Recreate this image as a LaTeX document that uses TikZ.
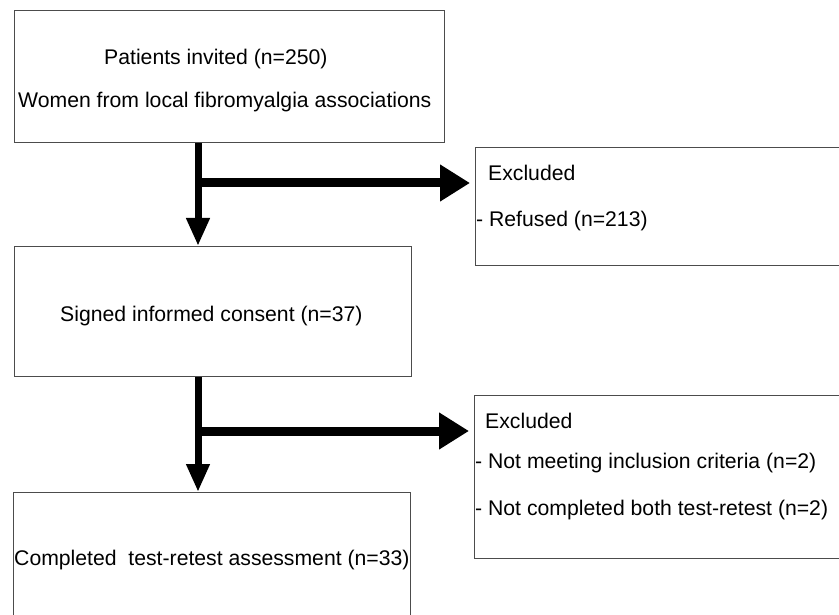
\documentclass[tikz,border=0pt]{standalone}
\usepackage{fontspec}
\setmainfont{Liberation Sans}
\usetikzlibrary{arrows.meta}
\begin{document}
\begin{tikzpicture}[x=1pt,y=-1pt,
  box/.style={draw=black!70,line width=1.3pt,rectangle,inner sep=0pt,anchor=north west},
  txt/.style={inner sep=0pt,anchor=base west,font=\fontsize{21.2}{25}\selectfont},
  vflow/.style={line width=7pt,-{Triangle[width=22pt,length=28pt]}},
  hflow/.style={line width=9pt,-{Triangle[width=35pt,length=30pt]}}]
\useasboundingbox (0,0) rectangle (839,615);
\clip (0,0) rectangle (839,615);
\fill[white] (0,0) rectangle (839,615);
% boxes
\node[box,minimum width=430pt,minimum height=132pt] (b1) at (14,10) {};
\node[box,minimum width=380pt,minimum height=118pt] (x1) at (475,147) {};
\node[box,minimum width=397pt,minimum height=130pt] (b2) at (14,246) {};
\node[box,minimum width=380pt,minimum height=163pt] (x2) at (474,395) {};
\node[box,minimum width=397pt,minimum height=140pt] (b3) at (13,492) {};
% texts
\node[txt] (t1) at (104,65) {Patients invited (n=250)};
\node[txt] (t2) at (18,108) {Women from local fibromyalgia associations};
\node[txt] (t3) at (488,181) {Excluded};
\node[txt] (t4) at (476,226) {- Refused (n=213)};
\node[txt] (t5) at (60,321) {Signed informed consent (n=37)};
\node[txt] (t6) at (485,428) {Excluded};
\node[txt] (t7) at (475,468) {- Not meeting inclusion criteria (n=2)};
\node[txt] (t8) at (475,515) {- Not completed both test-retest (n=2)};
\node[txt] (t9) at (14,565) {Completed\ \ test-retest assessment (n=33)};
% connectors
\coordinate (j1) at (198,183);
\coordinate (j2) at (198,431);
\draw[vflow] (b1.south -| j1) -- (b2.north -| j1);
\draw[hflow] (j1) -- ([xshift=-5pt]x1.west |- j1);
\draw[vflow] (b2.south -| j2) -- (b3.north -| j2);
\draw[hflow] (j2) -- ([xshift=-5pt]x2.west |- j2);
\end{tikzpicture}
\end{document}
